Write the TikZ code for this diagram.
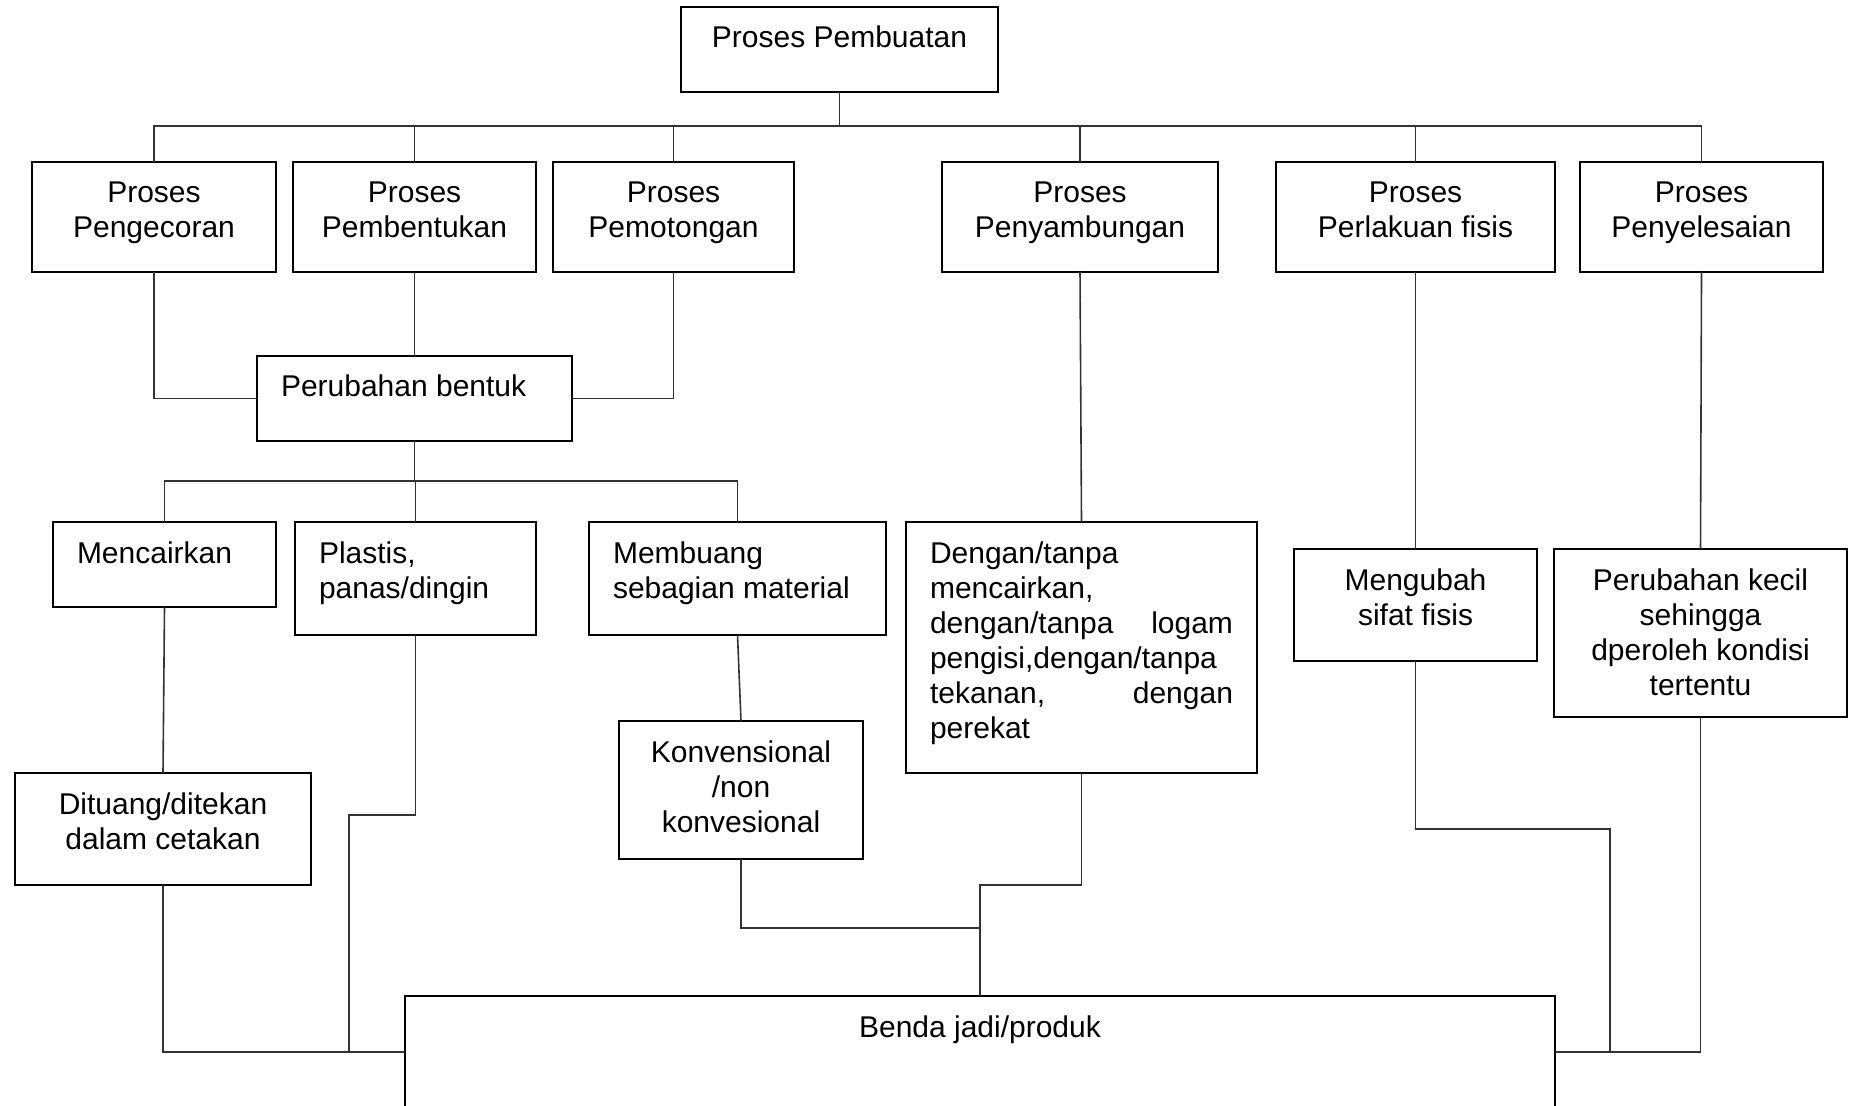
\documentclass[tikz,border=0pt]{standalone}
\usepackage{fontspec}
\setmainfont{Liberation Sans}
\usetikzlibrary{positioning}

\begin{document}
\begin{tikzpicture}[x=0.5pt,y=-0.5pt,inner sep=0pt,outer sep=0pt,
  font=\fontsize{15}{17.5}\selectfont,
  box/.style={rectangle,draw=black,line width=0.9pt,inner xsep=12pt,
    text height=20.5pt,align=flush center,anchor=north west},
  lbox/.style={box,align=flush left},
  line/.style={draw=black!80,line width=0.8pt}]
  \useasboundingbox (0,0) rectangle (1850,1106);
  \clip (0,0) rectangle (1850,1106);

  \node[box,text width=134.5pt,text depth=22pt] (pembuatan) at (681,7) {Proses Pembuatan};

  % jenis proses
  \node[box,text width=98pt,text depth=34.5pt] (pengecoran) at (32,162) {Proses\\Pengecoran};
  \node[box,text width=97.5pt,text depth=34.5pt] (pembentukan) [right=8.5pt of pengecoran] {Proses\\Pembentukan};
  \node[box,text width=96.5pt,text depth=34.5pt] (pemotongan) [right=8.5pt of pembentukan] {Proses\\Pemotongan};
  \node[box,text width=114pt,text depth=34.5pt] (penyambungan) [right=74pt of pemotongan] {Proses\\Penyambungan};
  \node[box,text width=115.5pt,text depth=34.5pt] (perlakuan) [right=29pt of penyambungan] {Proses\\Perlakuan fisis};
  \node[box,text width=97.5pt,text depth=34.5pt] (penyelesaian) [right=12.5pt of perlakuan] {Proses\\Penyelesaian};

  \node[lbox,text width=133.5pt,text depth=22pt] (bentuk) at (257,356) {Perubahan bentuk};

  \node[lbox,text width=87.5pt,text depth=22pt] (mencairkan) at (53,522) {Mencairkan};
  \node[lbox,text width=96.5pt,text depth=36pt] (plastis) at (295,522) {Plastis,\\panas/dingin};
  \node[lbox,text width=124.5pt,text depth=36pt] (membuang) at (589,522) {Membuang\\sebagian material};
  \node[lbox,text width=151.5pt,text depth=105pt] (dengan) at (906,522)
    {Dengan/tanpa\\mencairkan,\\dengan/tanpa\hfill logam\\pengisi,dengan/tanpa\\tekanan,\hfill dengan\\perekat};
  \node[box,text width=97.5pt,text depth=35.5pt] (mengubah) at (1294,549) {Mengubah\\sifat fisis};
  \node[box,text width=122.5pt,text depth=63.5pt] (kecil) at (1554,549)
    {Perubahan kecil\\sehingga\\dperoleh kondisi\\tertentu};

  \node[box,text width=98pt,text depth=48.5pt] (konvensional) at (619,721) {Konvensional\\/non\\konvesional};
  \node[box,text width=124pt,text depth=35.5pt] (dituang) at (15,773) {Dituang/ditekan\\dalam cetakan};

  \node[box,text width=551pt,text depth=35.5pt] (benda) at (405,996) {Benda jadi/produk};

  % garis penghubung
  \draw[line] (pembuatan.south) -- ++(0,34) coordinate (bus);
  \draw[line] (bus) -| (pengecoran.north);
  \draw[line] (bus) -| (pembentukan.north);
  \draw[line] (bus) -| (pemotongan.north);
  \draw[line] (bus) -| (penyambungan.north);
  \draw[line] (bus) -| (perlakuan.north);
  \draw[line] (bus) -| (penyelesaian.north);

  \draw[line] (pengecoran.south) |- (bentuk.west);
  \draw[line] (pemotongan.south) |- (bentuk.east);
  \draw[line] (pembentukan.south) -- (bentuk.north);

  \draw[line] (bentuk.south) -- ++(0,40) coordinate (bus2);
  \draw[line] (bus2) -| (mencairkan.north);
  \draw[line] (bus2) -| (plastis.north);
  \draw[line] (bus2) -| (membuang.north);

  \draw[line] (penyambungan.south) -- (dengan.north);
  \draw[line] (perlakuan.south) -- (mengubah.north);
  \draw[line] (penyelesaian.south) -- (kecil.north);
  \draw[line] (mencairkan.south) -- (dituang.north);
  \draw[line] (membuang.south) -- (konvensional.north);

  \coordinate (j1) at (349,1052);
  \coordinate (j2) at (980,928);
  \coordinate (j3) at (980,885);
  \coordinate (j4) at (1610,829);
  \draw[line] (dituang.south) |- (benda.west);
  \draw[line] (plastis.south) -- ++(0,180) -| (j1);
  \draw[line] (konvensional.south) |- (j2) -- (benda.north);
  \draw[line] (dengan.south) |- (j3) -- (j2);
  \draw[line] (mengubah.south) |- (j4) |- (benda.east);
  \draw[line] (kecil.south) |- (benda.east);
\end{tikzpicture}
\end{document}
